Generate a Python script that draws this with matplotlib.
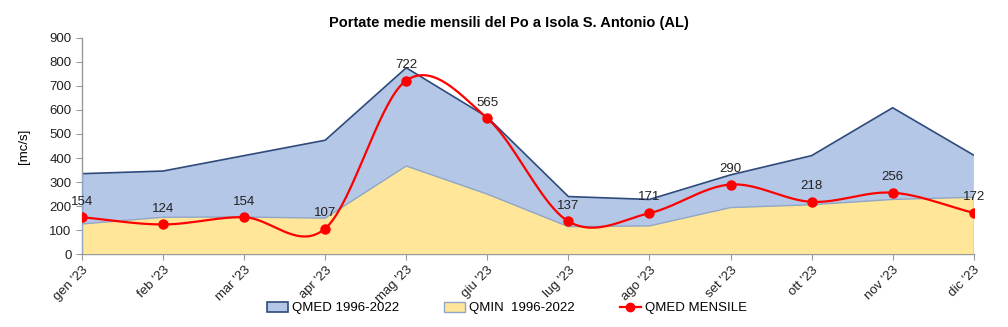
import numpy as np
import matplotlib
matplotlib.use("Agg")
import matplotlib.pyplot as plt
from matplotlib.patches import Patch
from matplotlib.lines import Line2D

plt.rcParams['font.family'] = ['Liberation Sans', 'DejaVu Sans']

months = ["gen '23", "feb '23", "mar '23", "apr '23", "mag '23", "giu '23",
          "lug '23", "ago '23", "set '23", "ott '23", "nov '23", "dic '23"]
qmed_hist = [335, 346, 410, 474, 775, 570, 240, 228, 330, 410, 609, 412]
qmin_hist = [126, 154, 155, 150, 367, 250, 115, 118, 194, 206, 228, 237]
qmed_2023 = [154, 124, 154, 107, 722, 565, 137, 171, 290, 218, 256, 172]


def smooth(y, n=40):
    # catmull-rom curve through the points (like excel "smoothed line")
    y = np.asarray(y, dtype=float)
    x = np.arange(len(y), dtype=float)
    xs, ys = [], []
    for i in range(len(y) - 1):
        m0 = (y[i + 1] - y[i - 1]) / 2 if i > 0 else (y[1] - y[0])
        m1 = (y[i + 2] - y[i]) / 2 if i + 2 < len(y) else (y[-1] - y[-2])
        t = np.linspace(0, 1, n)
        h00 = 2 * t**3 - 3 * t**2 + 1
        h10 = t**3 - 2 * t**2 + t
        h01 = -2 * t**3 + 3 * t**2
        h11 = t**3 - t**2
        xs.append(x[i] + t)
        ys.append(h00 * y[i] + h10 * m0 + h01 * y[i + 1] + h11 * m1)
    return np.concatenate(xs), np.concatenate(ys)


fig = plt.figure(figsize=(10.08, 3.27), dpi=100)
ax = fig.add_axes([0.0813, 0.2223, 0.8847, 0.6624])

x = np.arange(len(months))
ax.fill_between(x, 0, qmed_hist, facecolor='#B4C7E7', edgecolor='none', zorder=1)
ax.plot(x, qmed_hist, color='#2F4B7C', lw=1.2, zorder=2)
ax.fill_between(x, 0, qmin_hist, facecolor='#FFE699', edgecolor='none', zorder=3)
ax.plot(x, qmin_hist, color='#8FA6C6', lw=1.0, zorder=4)
ax.plot([x[-1], x[-1]], [0, qmed_hist[-1]], color='#8FA6C6', lw=1.0, zorder=4)
ax.plot([x[0], x[0]], [0, qmed_hist[0]], color='#8FA6C6', lw=1.0, zorder=4)

sx, sy = smooth(qmed_2023)
ax.plot(sx, sy, color='#FF0000', lw=1.6, zorder=5)
ax.plot(x, qmed_2023, 'o', color='#FF0000', ms=6.5, zorder=6)
for xi, v in zip(x, qmed_2023):
    ax.annotate(str(v), (xi, v), xytext=(0, 7), textcoords='offset points',
                ha='center', va='bottom', fontsize=9.5, color='#222222', zorder=7)

ax.set_xlim(0, 11)
ax.set_ylim(0, 900)
ax.set_yticks(range(0, 901, 100))
ax.set_xticks(x)
ax.set_xticklabels(months, rotation=45, ha='right', rotation_mode='anchor')
ax.tick_params(axis='both', labelsize=9.5, colors='#222222', length=4, width=0.8)
ax.tick_params(axis='x', pad=3)
for s in ['top', 'right']:
    ax.spines[s].set_visible(False)
for s in ['left', 'bottom']:
    ax.spines[s].set_color('#999999')
    ax.spines[s].set_linewidth(1.0)
ax.tick_params(color='#999999')
ax.set_ylabel('[mc/s]', fontsize=9.5, labelpad=14)

fig.text(0.505, 0.93, 'Portate medie mensili del Po a Isola S. Antonio (AL)',
         ha='center', va='center', fontsize=10.5, fontweight='bold')

handles = [
    Patch(facecolor='#B4C7E7', edgecolor='#2F4B7C', lw=1.2),
    Patch(facecolor='#FFE699', edgecolor='#8FA6C6', lw=1.0),
    Line2D([], [], color='#FF0000', lw=1.6, marker='o', ms=6),
]
labels = ['QMED 1996-2022', 'QMIN  1996-2022', 'QMED MENSILE']
fig.legend(handles, labels, loc='center', bbox_to_anchor=(0.503, 0.058), ncol=3,
           frameon=False, fontsize=9.5, columnspacing=3.4, handlelength=1.6,
           handletextpad=0.3, handleheight=0.8)

fig.savefig('out.png', dpi=100)
